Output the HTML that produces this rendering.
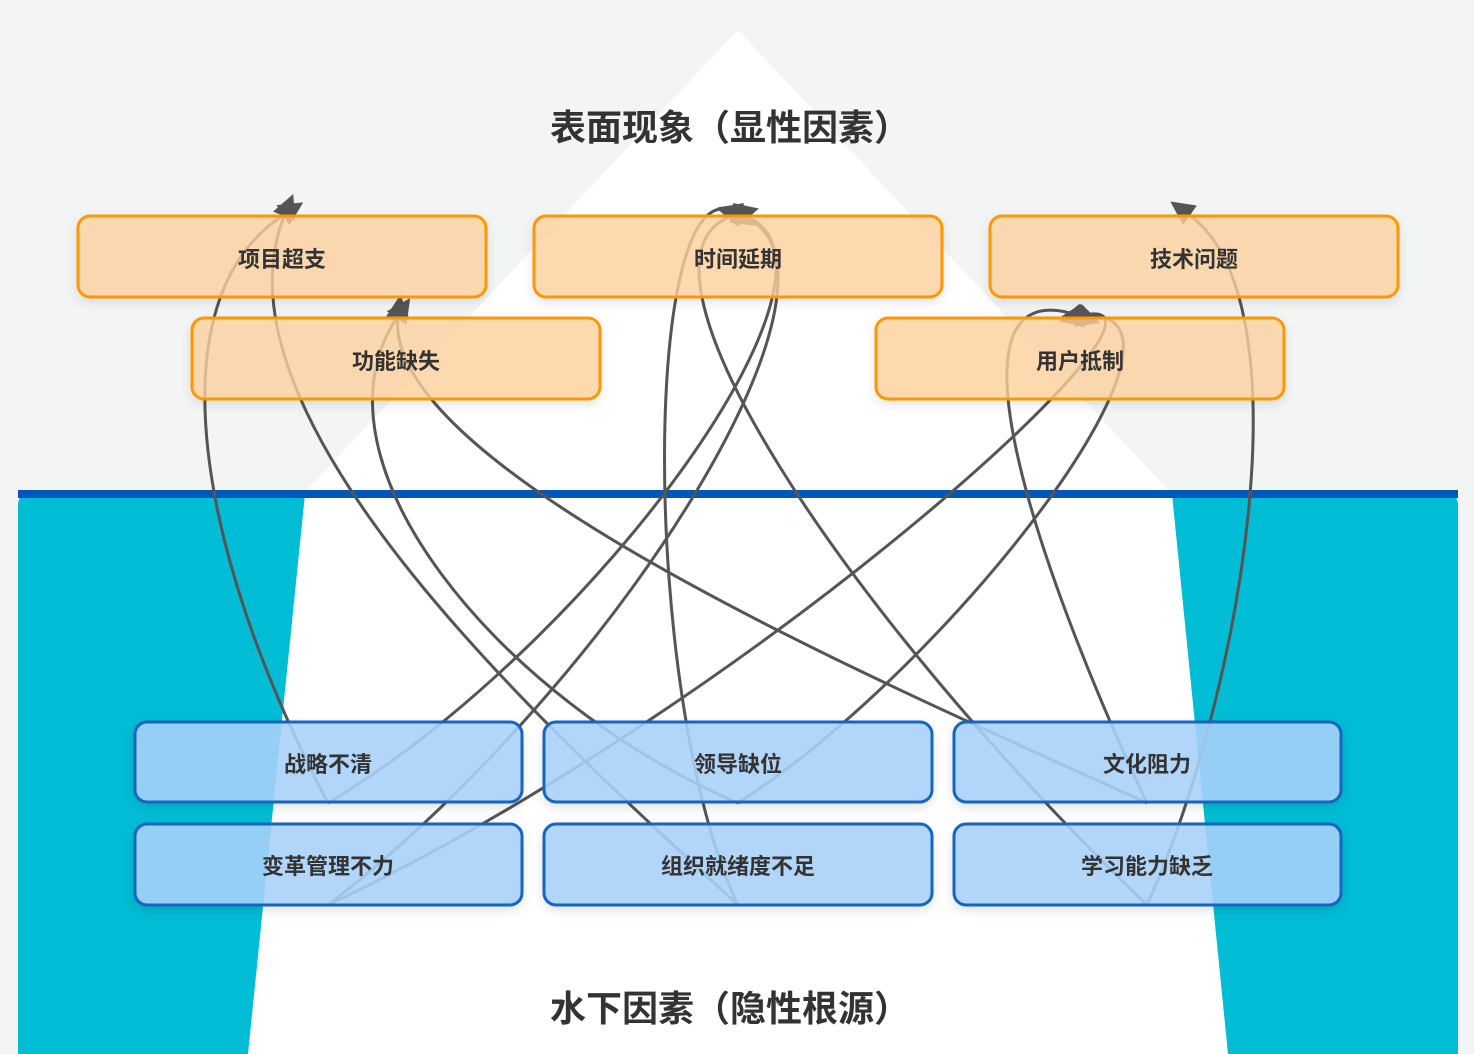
<!DOCTYPE html>
<html><head><meta charset="utf-8"><style>
html,body{margin:0;padding:0;background:#f3f5f4;}
svg{display:block;}
text{font-family:"Liberation Sans","Noto Sans CJK SC",sans-serif;font-weight:bold;fill:#333;}
</style></head><body>
<svg width="1474" height="1054" viewBox="0 0 1474 1054" xmlns="http://www.w3.org/2000/svg">
<defs>
<marker id="ar" viewBox="0 0 10 10" refX="1" refY="5" markerWidth="24" markerHeight="24" markerUnits="userSpaceOnUse" orient="auto">
<path d="M0,0 L10,5 L0,10 z" fill="#555"/>
</marker>
<filter id="sh" x="-10%" y="-20%" width="120%" height="150%"><feDropShadow dx="0" dy="4" stdDeviation="5" flood-color="#000" flood-opacity="0.12"/></filter>
</defs>
<rect width="1474" height="1054" fill="#f3f5f4"/>
<polygon points="738,30 305,492 1170,492" fill="#ffffff"/>
<path d="M18,505 Q18,494 30,494 L1446,494 Q1458,494 1458,505 L1458,1054 L18,1054 Z" fill="#00bcd4"/>
<polygon points="305,494 1172,494 1228,1054 248,1054" fill="#ffffff"/>
<rect x="18" y="490" width="1440" height="8" fill="#0057b8"/>
<g fill="none" stroke="#555" stroke-width="3" marker-end="url(#ar)">
<path d="M328,803 C200,560 150,300 285,214"/>
<path d="M738,905 C560,740 200,420 285,214"/>
<path d="M738,803 C500,700 300,460 398,316"/>
<path d="M1147,803 C900,690 380,470 398,316"/>
<path d="M738,905 C640,700 640,150 738,214"/>
<path d="M1147,905 C850,620 600,250 738,214"/>
<path d="M328,803 C600,640 880,250 738,214"/>
<path d="M328,905 C620,680 880,260 738,214"/>
<path d="M1147,905 C1240,700 1310,300 1188,214"/>
<path d="M1147,803 C1060,620 920,260 1080,316"/>
<path d="M328,905 C760,700 1220,280 1080,316"/>
<path d="M738,803 C960,660 1230,300 1080,316"/>
</g>
<g filter="url(#sh)" stroke="#ff9800" stroke-width="3" fill="#ffd29e" fill-opacity="0.78">
<rect x="78" y="216" width="408" height="81" rx="12"/>
<rect x="534" y="216" width="408" height="81" rx="12"/>
<rect x="990" y="216" width="408" height="81" rx="12"/>
<rect x="192" y="318" width="408" height="81" rx="12"/>
<rect x="876" y="318" width="408" height="81" rx="12"/>
</g>
<g filter="url(#sh)" stroke="#1565c0" stroke-width="3" fill="#a9d3fb" fill-opacity="0.88">
<rect x="135" y="722" width="387" height="80" rx="12"/>
<rect x="544" y="722" width="388" height="80" rx="12"/>
<rect x="954" y="722" width="387" height="80" rx="12"/>
<rect x="135" y="824" width="387" height="81" rx="12"/>
<rect x="544" y="824" width="388" height="81" rx="12"/>
<rect x="954" y="824" width="387" height="81" rx="12"/>
</g>
<g font-size="22" text-anchor="middle">
<text x="282" y="267">项目超支</text>
<text x="738" y="267">时间延期</text>
<text x="1194" y="267">技术问题</text>
<text x="396" y="369">功能缺失</text>
<text x="1080" y="369">用户抵制</text>
<text x="328" y="772">战略不清</text>
<text x="738" y="772">领导缺位</text>
<text x="1147" y="772">文化阻力</text>
<text x="328" y="874">变革管理不力</text>
<text x="738" y="874">组织就绪度不足</text>
<text x="1147" y="874">学习能力缺乏</text>
</g>
<g font-size="36" text-anchor="middle">
<text x="730" y="140">表面现象（显性因素）</text>
<text x="730" y="1021">水下因素（隐性根源）</text>
</g>
</svg>
</body></html>
